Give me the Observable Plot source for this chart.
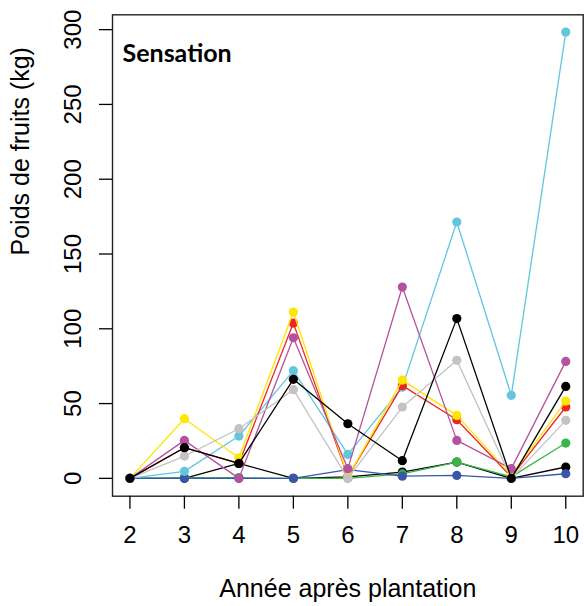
<!DOCTYPE html>
<html>
<head>
<meta charset="utf-8">
<script src="https://cdn.jsdelivr.net/npm/d3@7"></script>
<script src="https://cdn.jsdelivr.net/npm/@observablehq/plot@0.6"></script>
<style>
  html, body { margin: 0; padding: 0; background: #fff; }
  #chart svg { display: block; }
</style>
</head>
<body>
<div id="chart"></div>
<script>
// Years after planting (x categories)
const years = [2, 3, 4, 5, 6, 7, 8, 9, 10];
const xTicks = [2, 3, 4, 5, 6, 7, 8, 9, 10];
const yTicks = [0, 50, 100, 150, 200, 250, 300];

// Fruit weight (kg) per tree, one array per series
const cyanVals    = [0, 4.7, 28.3, 72, 16, 61, 171.4, 55.5, 298.4];
const magentaVals = [0, 25.4, 0, 94, 6.5, 127.9, 25.4, 6.5, 78.2];
const greyVals    = [0, 14.9, 33.2, 59.3, 0, 47.7, 78.9, 0, 38.8];
const redVals     = [0, 20.5, 10, 103.8, 1, 62, 39.2, 1, 47.7];
const yellowVals  = [0, 39.9, 13.8, 111.2, 1, 65.7, 42.1, 2, 51.7];
const blackBVals  = [0, 0, 10, 0, 1, 4.2, 10.9, 0, 7.6];
const greenVals   = [0, 0.5, 0.5, 0, 0, 3, 10.9, 1, 23.6];
const blueVals    = [0, 0, 0, 0, 5.8, 1.5, 2, 0, 3.1];
const blackAVals  = [0, 20.5, 10, 66.2, 36.5, 11.8, 106.8, 0, 61.5];

// drawing order (later series on top)
const seriesNames = ["blackB", "green", "blue", "cyan", "red", "yellow", "magenta", "grey", "blackA"];
const seriesValues = [blackBVals, greenVals, blueVals, cyanVals, redVals, yellowVals, magentaVals, greyVals, blackAVals];
const seriesColors = ["#000000", "#3bb44a", "#3a56a8", "#62c6de", "#ee2424", "#ffe600", "#b4529e", "#c3c3c3", "#000000"];

const marks = [Plot.frame({stroke: "#222", strokeWidth: 1.4})];
seriesNames.forEach((name, i) => {
  const rows = years.map((yr, j) => ({year: yr, value: seriesValues[i][j]}));
  marks.push(Plot.line(rows, {x: "year", y: "value", stroke: seriesColors[i], strokeWidth: 1.3}));
  marks.push(Plot.dot(rows, {x: "year", y: "value", r: 4.6, fill: seriesColors[i], stroke: "none"}));
});

marks.push(Plot.axisX({
  ticks: xTicks, tickSize: 13, tickPadding: 17, fontSize: 24,
  strokeWidth: 1.3, label: null, tickFormat: d => String(d)
}));
marks.push(Plot.axisY({
  ticks: yTicks, tickSize: 13, tickPadding: 19, tickRotate: -90, fontSize: 24,
  strokeWidth: 1.3, label: null, tickFormat: d => String(d)
}));
marks.push(Plot.text(["Année après plantation"], {
  text: d => d, frameAnchor: "bottom", dy: 93, lineAnchor: "middle",
  fontSize: 25, fill: "#000"
}));
marks.push(Plot.text(["Poids de fruits (kg)"], {
  text: d => d, frameAnchor: "left", rotate: -90, dx: -84, lineAnchor: "bottom",
  fontSize: 25, fill: "#000"
}));
marks.push(Plot.text(["Sensation"], {
  text: d => d, frameAnchor: "top-left", dx: 10, dy: 29, lineAnchor: "top",
  textAnchor: "start", fontSize: 25, fontWeight: "bold", fontFamily: "Lato", fill: "#000"
}));

const chart = Plot.plot({
  width: 584, height: 606,
  marginLeft: 112, marginRight: 1.3, marginTop: 14.3, marginBottom: 110.3,
  style: {fontFamily: "'Liberation Sans', Arial, sans-serif", background: "#fff", color: "#000"},
  x: {domain: [1.68, 10.32]},
  y: {domain: [-11.92, 309.92]},
  marks
});
document.getElementById("chart").appendChild(chart);
</script>
</body>
</html>
